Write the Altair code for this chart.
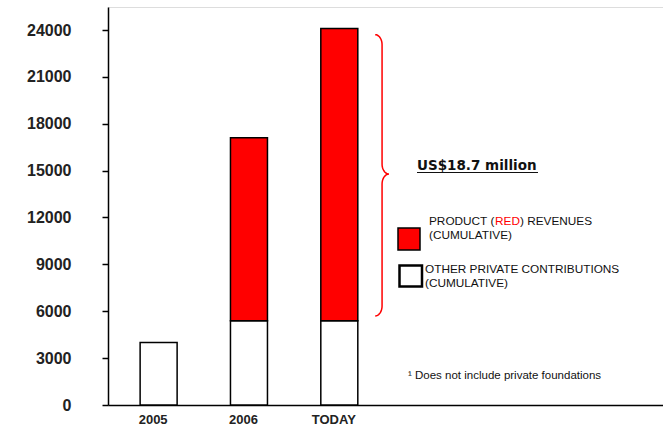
import altair as alt
import numpy as np
import pandas as pd

# ---- data ----
categories = ["2005", "2006", "TODAY"]
other_private = [4000, 5400, 5400]      # white part (cumulative other private contributions)
product_red = [0, 11700, 18700]         # red part (cumulative product (RED) revenues)
y_ticks = [0, 3000, 6000, 9000, 12000, 15000, 18000, 21000, 24000]

total_label = "US$18.7 million"
legend_red_1 = ["PRODUCT (", "RED", ") REVENUES"]
legend_red_2 = "(CUMULATIVE)"
legend_white_1 = "OTHER PRIVATE CONTRIBUTIONS"
legend_white_2 = "(CUMULATIVE)"
footnote = "\u00b9 Does not include private foundations"

# ---- layout ----
LEFT = 108
W, H = 663 - LEFT, 398
step = 92.0
x_dom = [0.495, 0.495 + W / step]
y_dom = [0, 25472]
FONT = "Liberation Sans"

rows = []
for i, c in enumerate(categories):
    rows.append({"cat": c, "pos": i + 1, "series": "other", "ord": 0, "value": other_private[i]})
    if product_red[i] > 0:
        rows.append({"cat": c, "pos": i + 1, "series": "product", "ord": 1, "value": product_red[i]})
bars_df = pd.DataFrame(rows)

xs = alt.Scale(domain=x_dom, nice=False, zero=False)
ys = alt.Scale(domain=y_dom, nice=False)

label_expr = "[" + ",".join("'" + c + "'" for c in categories) + "][datum.value-1]"
x_axis = alt.Axis(values=[1, 2, 3], labelExpr=label_expr, ticks=False, grid=False, title=None,
                  domainColor="black", domainWidth=1.5, labelFontSize=13, labelFontWeight="bold",
                  labelPadding=8, labelOffset=-6, labelColor="#222", labelFont=FONT)
y_axis = alt.Axis(values=y_ticks, grid=False, title=None, tickSize=6, tickColor="black",
                  tickWidth=1.5, domainColor="black", domainWidth=1.5, labelPadding=31,
                  labelFontSize=16, labelFontWeight="bold", labelColor="#222", format="d",
                  labelFont=FONT)

bars = alt.Chart(bars_df).mark_bar(size=37, stroke="black", strokeWidth=1.5).encode(
    x=alt.X("pos:Q", scale=xs, axis=x_axis),
    y=alt.Y("value:Q", stack="zero", scale=ys, axis=y_axis),
    color=alt.Color("series:N", scale=alt.Scale(domain=["other", "product"], range=["white", "#ff0000"]), legend=None),
    order=alt.Order("ord:Q"),
)

# ---- curly brace spanning the red part of the last bar ----
last = len(categories) - 1
y_top = other_private[last] + product_red[last] - 400
y_bot = other_private[last] + 300
y_mid = (y_top + y_bot) / 2 + 80
r = 10 / H * y_dom[1]
a = 7 / step
x0 = x_dom[0] + (375 - LEFT) / step
x1 = x0 + a
x2 = x1 + a
n = 10
t1 = np.linspace(np.pi / 2, 0, n)
t2 = np.linspace(np.pi, 1.5 * np.pi, n)
t3 = np.linspace(np.pi / 2, np.pi, n)
t4 = np.linspace(0, -np.pi / 2, n)
bx = np.concatenate([x0 + a * np.cos(t1), x2 + a * np.cos(t2), x2 + a * np.cos(t3), x0 + a * np.cos(t4)])
by = np.concatenate([y_top - r + r * np.sin(t1), y_mid + r + r * np.sin(t2),
                     y_mid - r + r * np.sin(t3), y_bot + r + r * np.sin(t4)])
brace_df = pd.DataFrame({"pos": bx, "value": by, "k": np.arange(len(bx))})
brace = alt.Chart(brace_df).mark_line(color="#ff0000", strokeWidth=1.5).encode(
    x=alt.X("pos:Q", scale=xs, axis=x_axis),
    y=alt.Y("value:Q", scale=ys, axis=y_axis),
    order=alt.Order("k:Q"),
)

one = pd.DataFrame({"k": [0]})


def txt(s, x, y, size=11.8, color="#111", weight="normal", align="left", font=FONT):
    return alt.Chart(one).mark_text(align=align, baseline="alphabetic", fontSize=size,
                                    color=color, fontWeight=weight, font=font).encode(
        x=alt.value(x), y=alt.value(y), text=alt.value(s))


def box(x, x2, y, y2, fill, sw):
    return alt.Chart(one).mark_rect(fill=fill, stroke="black", strokeWidth=sw).encode(
        x=alt.value(x), x2=alt.value(x2), y=alt.value(y), y2=alt.value(y2))


total_txt = txt(total_label, 309, 163, size=13.5, weight="bold", color="#111", font="DejaVu Sans")
underline = alt.Chart(one).mark_rule(color="#111", strokeWidth=1.2).encode(
    x=alt.value(309), x2=alt.value(430), y=alt.value(165.5))

red_box = box(290, 312, 221, 243, "#ff0000", 1.5)
white_box = box(291.5, 314, 258.5, 279.5, "white", 2.5)

l1a = txt(legend_red_1[0], 321, 218)
l1b = txt(legend_red_1[1], 387, 218, color="#ff0000")
l1c = txt(legend_red_1[2], 412, 218)
l2 = txt(legend_red_2, 321, 232)
l3 = txt(legend_white_1, 317, 266)
l4 = txt(legend_white_2, 317, 280)
foot = txt(footnote, 300, 372, size=11.5)

chart = alt.layer(
    bars, brace, total_txt, underline, red_box, white_box, l1a, l1b, l1c, l2, l3, l4, foot
).properties(
    width=W, height=H,
    autosize=alt.AutoSizeParams(type="none"),
    padding={"left": LEFT, "top": 7, "right": 0, "bottom": 27},
).configure_view(stroke=None).configure(background="white")

chart.save("out.html", embed_options={"renderer": "svg", "actions": False})
